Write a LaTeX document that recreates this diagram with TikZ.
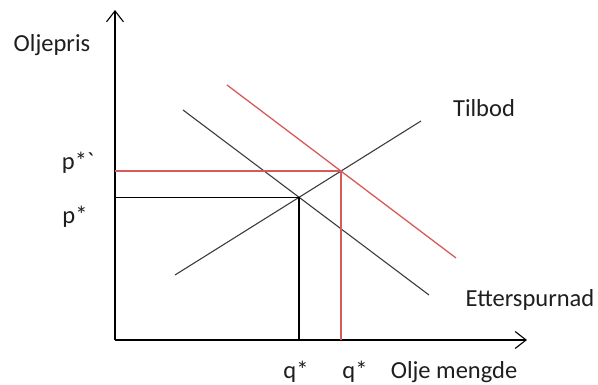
\documentclass[tikz,border=0pt]{standalone}
\usepackage{fontspec}
\setmainfont{Carlito}
\usepackage{xcolor}
\usepackage{tikz}
\usetikzlibrary{arrows.meta, positioning, calc}
\definecolor{CurveGray}{RGB}{60, 60, 60}
\definecolor{ShiftRed}{RGB}{215, 90, 90}
\definecolor{LabelInk}{RGB}{30, 30, 30}

\begin{document}
\begin{tikzpicture}[
    x=1pt, y=1pt,
    axis/.style={draw=black, line width=1.1pt, -{Straight Barb[length=11pt, width=17pt]}},
    curve/.style={draw=CurveGray, line width=1.1pt},
    shifted/.style={draw=ShiftRed, line width=1.3pt},
    lbl/.style={text=LabelInk, font=\fontsize{24.5}{29}\selectfont, inner sep=0pt}
  ]
  \useasboundingbox (0,0) rectangle (598,385);

  % axes
  \coordinate (O) at (115,45);
  \coordinate (ytop) at (115,375);
  \coordinate (xend) at (527,45);
  \draw[axis] (O) -- (ytop);
  \draw[axis] (O) -- (xend);

  % supply and the two demand lines
  \coordinate (s0) at (175,110);
  \coordinate (s1) at (421,264);
  \coordinate (d0) at (183,275);
  \coordinate (d1) at (429,90);
  \coordinate (r0) at (227,300);
  \coordinate (r1) at (456,127);
  \draw[curve] (s0) -- (s1);
  \draw[curve] (d0) -- (d1);
  \draw[shifted] (r0) -- (r1);

  % equilibria
  \coordinate (E1) at (intersection of s0--s1 and d0--d1);
  \coordinate (E2) at (intersection of s0--s1 and r0--r1);
  \coordinate (p1) at (O |- E1);
  \coordinate (q1) at (E1 |- O);
  \coordinate (p2) at (O |- E2);
  \coordinate (q2) at (E2 |- O);
  \draw[black, line width=1.3pt] (p1) -- (E1) -- (q1);
  \draw[shifted] (p2) -- (E2) -- (q2);

  % labels
  \node[lbl] (pris) at (52,340) {Oljepris};
  \node[lbl] (pnew) at (78,222) {p*\textasciigrave};
  \node[lbl] (pold) at (75,168) {p*};
  \node[lbl] (tilbod) at (484,277) {Tilbod};
  \node[lbl] (ettersp) at (530,85) {Etterspurnad};
  \node[lbl] (qold) at (296,13) {q*};
  \node[lbl] (qnew) at (355,13) {q*};
  \node[lbl] (mengde) at (454,13) {Olje mengde};
\end{tikzpicture}
\end{document}
